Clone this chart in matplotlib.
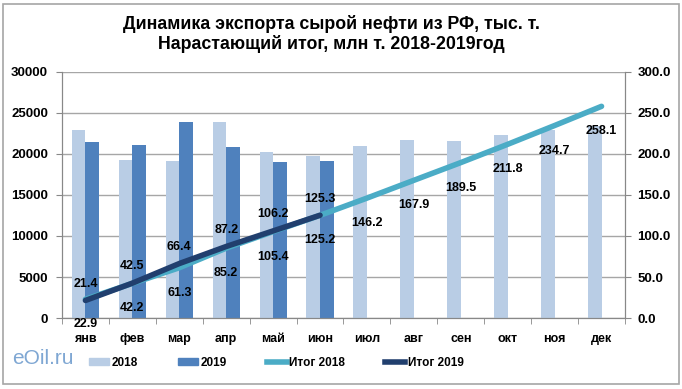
import numpy as np
import matplotlib
matplotlib.use('Agg')
import matplotlib.pyplot as plt
from matplotlib.patches import Rectangle, Patch
from matplotlib.lines import Line2D

plt.rcParams['font.family'] = ['Liberation Sans', 'DejaVu Sans']

months = ['янв', 'фев', 'мар', 'апр', 'май', 'июн', 'июл', 'авг', 'сен', 'окт', 'ноя', 'дек']
exp_2018 = [22900, 19300, 19100, 23900, 20200, 19800, 21000, 21700, 21600, 22300, 22900, 23400]
exp_2019 = [21400, 21100, 23900, 20800, 19000, 19100]
total_2018 = [22.9, 42.2, 61.3, 85.2, 105.4, 125.2, 146.2, 167.9, 189.5, 211.8, 234.7, 258.1]
total_2019 = [21.4, 42.5, 66.4, 87.2, 106.2, 125.3]

c18 = '#B9CDE5'
c19 = '#4F81BD'
ct18 = '#4BACC6'
ct19 = '#213F6E'

fig = plt.figure(figsize=(6.82, 3.89), dpi=100)
ax = fig.add_axes([0.0909, 0.1825, 0.8255, 0.6325])
ax2 = ax.twinx()

x = np.arange(len(months))
w = 0.29
ax.bar(x - w / 2, exp_2018, w, color=c18, zorder=2)
ax.bar(x[:len(exp_2019)] + w / 2, exp_2019, w, color=c19, zorder=2)

ax.set_ylim(0, 30000)
ax.set_yticks(range(0, 30001, 5000))
ax.set_xlim(-0.5, 11.5)
ax.set_xticks(x)
ax.set_xticklabels(months)
ax.set_xticks(np.arange(-0.5, 12, 1), minor=True)
ax.tick_params(axis='x', which='major', length=0, pad=11)
ax.tick_params(axis='x', which='minor', length=4, color='#888888')
ax.tick_params(axis='y', length=4, color='#888888', pad=6)
ax.yaxis.grid(True, color='#A6A6A6', linewidth=1, zorder=0)
ax.set_axisbelow(True)
for lab in ax.get_xticklabels():
    lab.set_fontsize(9)
    lab.set_fontweight('bold')
for lab in ax.get_yticklabels():
    lab.set_fontsize(9.5)
    lab.set_fontweight('bold')
for s in ['top']:
    ax.spines[s].set_visible(False)
    ax2.spines[s].set_visible(False)
for s in ['left', 'bottom', 'right']:
    ax.spines[s].set_color('#888888')
    ax2.spines[s].set_color('#888888')

ax2.plot(x, total_2018, color=ct18, linewidth=4, solid_capstyle='round', zorder=3)
ax2.plot(x[:len(total_2019)], total_2019, color=ct19, linewidth=4, solid_capstyle='round', zorder=4)
ax2.set_ylim(0, 300)
ax2.set_yticks(range(0, 301, 50))
ax2.set_yticklabels([f'{v:.1f}' for v in range(0, 301, 50)])
ax2.tick_params(axis='y', length=4, color='#888888', pad=5)
for lab in ax2.get_yticklabels():
    lab.set_fontsize(9.5)
    lab.set_fontweight('bold')

for i, v in enumerate(total_2018):
    ax2.annotate(f'{v:.1f}', (i, v), xytext=(0, -18), textcoords='offset points',
                 ha='center', va='center', fontsize=9, fontweight='bold', zorder=6)
for i, v in enumerate(total_2019):
    ax2.annotate(f'{v:.1f}', (i, v), xytext=(0, 12), textcoords='offset points',
                 ha='center', va='center', fontsize=9, fontweight='bold', zorder=6)

fig.text(0.486, 0.913, 'Динамика экспорта сырой нефти из РФ, тыс. т.\nНарастающий итог, млн т. 2018-2019год',
         ha='center', va='center', fontsize=12.8, fontweight='bold', linespacing=1.1)

handles = [Patch(color=c18), Patch(color=c19),
           Line2D([], [], color=ct18, linewidth=4), Line2D([], [], color=ct19, linewidth=4)]
labels = ['2018', '2019', 'Итог 2018', 'Итог 2019']
leg = fig.legend(handles, labels, loc='center left', bbox_to_anchor=(0.115, 0.067), ncol=4,
                 frameon=False, handlelength=1.7, handleheight=0.5, columnspacing=3.4,
                 handletextpad=0.2, prop={'size': 8.5, 'weight': 'bold'})

fig.text(0.018, 0.078, 'eOil.ru', fontsize=15, color='#7FA7D3', va='center', ha='left')

fig.patches.append(Rectangle((0.005, 0.012), 0.99, 0.978, transform=fig.transFigure,
                             fill=False, edgecolor='#A6A6A6', linewidth=1.2))

fig.savefig('out.png', dpi=100)
